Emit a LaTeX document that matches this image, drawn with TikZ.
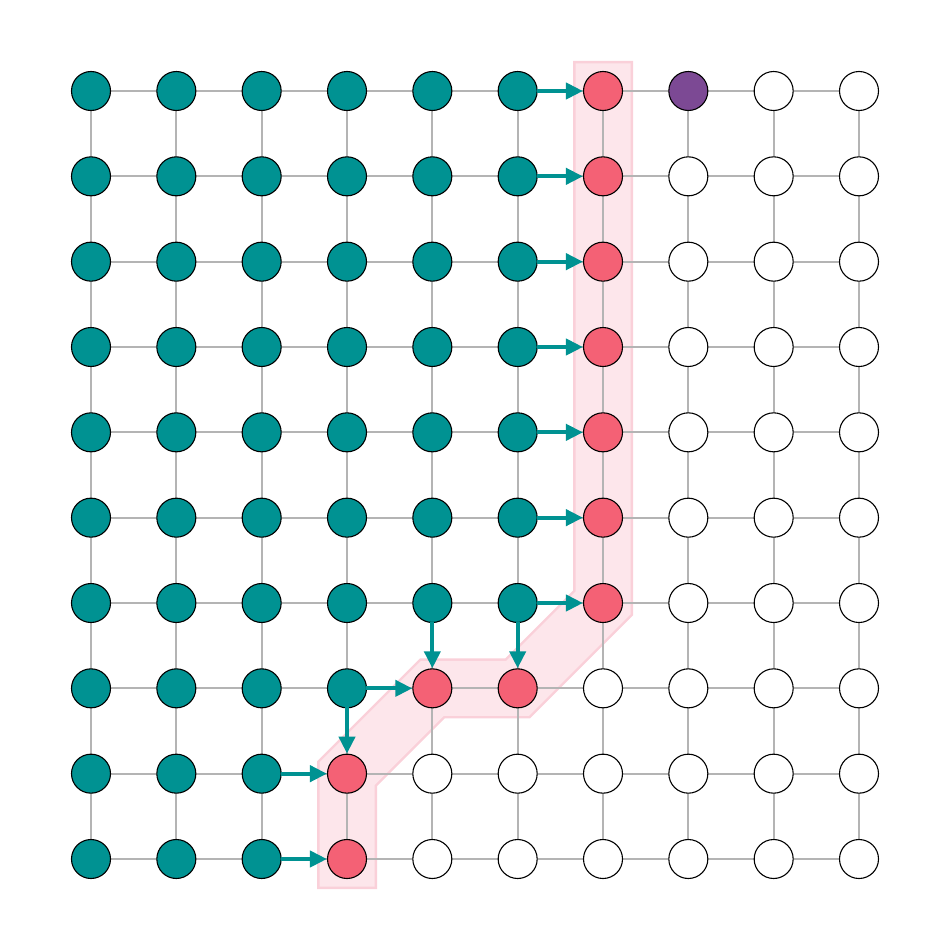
\documentclass[tikz,border=0pt]{standalone}
\usetikzlibrary{arrows.meta,backgrounds}
\definecolor{cT}{RGB}{0,146,146}
\definecolor{cP}{RGB}{244,97,117}
\definecolor{cV}{RGB}{124,73,148}
\definecolor{cW}{RGB}{255,255,255}
\definecolor{gridgray}{RGB}{180,180,180}
\definecolor{bandout}{RGB}{250,208,217}
\definecolor{bandin}{RGB}{253,230,235}
\tikzset{
  dot/.style={circle,draw=black,line width=1.1pt,minimum size=39pt,inner sep=0pt},
  gridline/.style={draw=gridgray,line width=2pt},
  flow/.style={draw=cT,line width=4pt,-{Triangle[length=17pt,width=16pt]},shorten <=-1pt},
}
\begin{document}
\begin{tikzpicture}[x=1pt,y=-1pt]
\useasboundingbox (0,0) rectangle (950,950);
\foreach \r/\row in {0/{cT,cT,cT,cT,cT,cT,cP,cV,cW,cW},
                     1/{cT,cT,cT,cT,cT,cT,cP,cW,cW,cW},
                     2/{cT,cT,cT,cT,cT,cT,cP,cW,cW,cW},
                     3/{cT,cT,cT,cT,cT,cT,cP,cW,cW,cW},
                     4/{cT,cT,cT,cT,cT,cT,cP,cW,cW,cW},
                     5/{cT,cT,cT,cT,cT,cT,cP,cW,cW,cW},
                     6/{cT,cT,cT,cT,cT,cT,cP,cW,cW,cW},
                     7/{cT,cT,cT,cT,cP,cP,cW,cW,cW,cW},
                     8/{cT,cT,cT,cP,cW,cW,cW,cW,cW,cW},
                     9/{cT,cT,cT,cP,cW,cW,cW,cW,cW,cW}}{
  \foreach \col [count=\c from 0] in \row {
    \node[dot,fill=\col] (n-\r-\c) at ({91+85.3333*\c},{91+85.3333*\r}) {};
  }
}
\begin{scope}[on background layer]
  % highlighted band
  \draw[bandout,line width=60pt,line cap=rect,line join=miter]
    (n-0-6.center) -- (n-6-6.center) -- (n-7-5.center) -- (n-7-4.center) -- (n-8-3.center) -- (n-9-3.center);
  \draw[bandin,line width=55pt,line cap=rect,line join=miter]
    (n-0-6.center) -- (n-6-6.center) -- (n-7-5.center) -- (n-7-4.center) -- (n-8-3.center) -- (n-9-3.center);
  % grid lines
  \foreach \r in {0,...,9}{
    \foreach \c [evaluate=\c as \cn using int(\c+1)] in {0,...,8}{
      \draw[gridline] (n-\r-\c.center) -- (n-\r-\cn.center);
      \draw[gridline] (n-\c-\r.center) -- (n-\cn-\r.center);
    }
  }
\end{scope}
% flow arrows
\foreach \r in {0,...,6}{
  \draw[flow] (n-\r-5) -- (n-\r-6);
}
\draw[flow] (n-6-4) -- (n-7-4);
\draw[flow] (n-6-5) -- (n-7-5);
\draw[flow] (n-7-3) -- (n-7-4);
\draw[flow] (n-7-3) -- (n-8-3);
\draw[flow] (n-8-2) -- (n-8-3);
\draw[flow] (n-9-2) -- (n-9-3);
\end{tikzpicture}
\end{document}
